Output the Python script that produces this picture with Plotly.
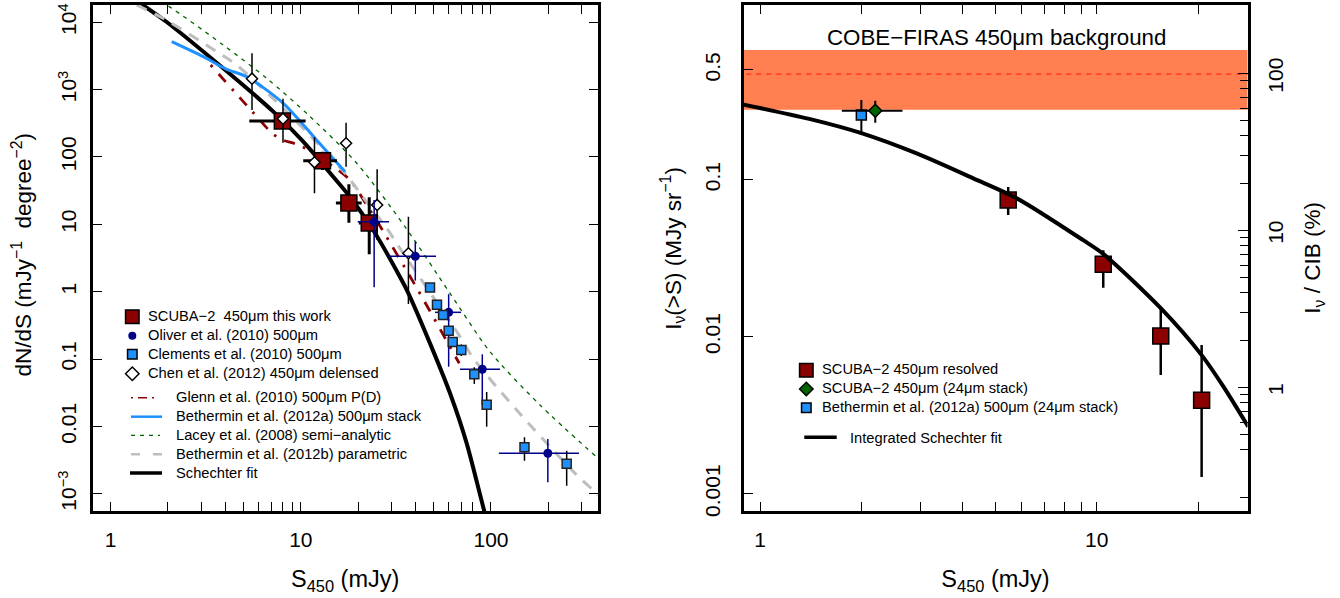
import plotly.graph_objects as go

FONT = "Liberation Sans"
W, H = 1340, 598

# ---------- left panel data ----------
schechter_x = [1.457, 1.972, 3.91, 7.17, 10.3, 14.8, 18.1, 24, 33.9, 36.8, 47.8, 60.9, 74.5, 91.9, 93]
schechter_y = [18500, 10100, 2075, 471, 169, 51, 25.7, 8.24, 1.49, 0.947, 0.171, 0.031, 0.00561, 0.000574, 0.000517]
param_x = [1.37, 1.93, 3.61, 4.6, 8.77, 17.4, 20.5, 28.3, 33.2, 68.7, 80.7, 136.5, 282, 352, 365]
param_y = [18060, 11090, 3660, 2323, 420, 54, 28.9, 8.74, 4.41, 0.215, 0.1026, 0.0175, 0.0019, 0.00107, 0.00095]
lacey_x = [1.83, 2.01, 3.91, 6.62, 11.2, 19.7, 35.3, 60.9, 98.8, 181, 360]
lacey_y = [20000, 17460, 4600, 1474, 397, 80.6, 9.23, 0.947, 0.1286, 0.0208, 0.00348]
stack_x = [2.095, 3.07, 4.08, 5.19, 8.09, 12.1, 17.1]
stack_y = [5150, 3085, 2005, 1557, 627, 179, 60.5]
glenn_x = [3.36, 5.56, 7.17, 8.04, 10, 17.9, 22.2, 27, 39.4, 47.4, 56.8, 68.1]
glenn_y = [2323, 471, 217, 179, 146, 47.1, 19.4, 8.05, 1.33, 0.535, 0.215, 0.0865]

scuba_x = [8.0, 13.0, 17.9, 22.9]
scuba_xlo = [5.36, 10.3, 15.3, 20.2]
scuba_xhi = [10.6, 15.5, 20.9, 26.1]
scuba_y = [342, 88, 20.7, 10.5]
scuba_ylo = [260, 64, 10.6, 3.59]
scuba_yhi = [450, 120, 39.3, 25.2]

chen_x = [5.54, 8.06, 11.8, 17.3, 25.2, 36.8]
chen_y = [1454, 370, 83.4, 160, 19.4, 3.72]
chen_ylo = [500, 163, 28.9, 71.8, 5.86, 0.656]
chen_yhi = [3467, 734, 196, 323, 65.6, 13]

oliver_x = [24.3, 40, 59.9, 90, 199]
oliver_xlo = [19.9, 28.8, 50.8, 68.7, 110]
oliver_xhi = [29.1, 51.4, 69.6, 111.5, 290]
oliver_y = [10.9, 3.35, 0.494, 0.0705, 0.00399]
oliver_ylo = [1.16, 1.46, 0.077, 0.0208, 0.00148]
oliver_yhi = [23, 5.5, 0.92, 0.1175, 0.0065]

clem_x = [47.8, 52, 56, 59.9, 62.9, 69.8, 81.7, 94.9, 150, 250]
clem_y = [1.15, 0.641, 0.451, 0.264, 0.179, 0.136, 0.0594, 0.021, 0.0049, 0.00279]
clem_ylo = [1.0, 0.56, 0.40, 0.23, 0.155, 0.111, 0.0427, 0.0099, 0.0031, 0.00132]
clem_yhi = [1.3, 0.72, 0.51, 0.30, 0.205, 0.165, 0.0755, 0.0324, 0.00689, 0.00436]

# ---------- right panel data ----------
intfit_x = [0.882, 1.4, 2.0, 2.92, 4.3, 5.79, 9.12, 10.46, 15.5, 20.5, 23.8, 28.2]
intfit_y = [0.303, 0.244, 0.198, 0.147, 0.102, 0.0762, 0.0412, 0.0337, 0.0152, 0.00764, 0.00481, 0.00267]
res_x = [5.46, 10.46, 15.5, 20.5]
res_y = [0.0743, 0.0290, 0.0101, 0.00394]
res_ylo = [0.0596, 0.0205, 0.0057, 0.00128]
res_yhi = [0.09, 0.0356, 0.0152, 0.00885]
stk450_x = [2.2]
stk450_xlo = [1.75]
stk450_xhi = [2.65]
stk450_y = [0.275]
stk450_ylo = [0.231]
stk450_yhi = [0.318]
stk500_x = [2.0]
stk500_y = [0.258]
stk500_ylo = [0.198]
stk500_yhi = [0.322]
firas_mean = [0.471, 0.471]
firas_x = [0.85, 30]
firas_lo, firas_hi = 0.279, 0.67

# ---------- tick labels ----------
xticks_left = [1, 10, 100]
xtext_left = ["1", "10", "100"]
xminor_left = [2,3,4,5,6,7,8,9,20,30,40,50,60,70,80,90,200,300]
xticks_right = [1, 10]
xtext_right = ["1", "10"]
xminor_right = [2,3,4,5,6,7,8,9,20]
yticks_left = [1e4,1e3,100,10,1,0.1,0.01,1e-3]
ytext_left = ["10<sup>4</sup>","10<sup>3</sup>","100","10","1","0.1","0.01","10<sup>−3</sup>"]
yticks_right = [0.5,0.1,0.01,0.001]
ytext_right = ["0.5","0.1","0.01","0.001"]
cib_major = [100,10,1]
cib_text = ["100","10","1"]
cib_minor = [90,80,70,60,50,40,30,20,9,8,7,6,5,4,3,2,0.9,0.8,0.7,0.6,0.5,0.4,0.2]

RED = "#8B0000"; NAVY = "#00008B"; BLUE = "#1E90FF"; GREEN = "#006400"; GRAY = "#BEBEBE"; CORAL = "#FF7F50"

def errs(v, lo, hi, thick, color):
    return dict(type="data", symmetric=False, array=[h-a for a,h in zip(v,hi)],
                arrayminus=[a-l for a,l in zip(v,lo)], width=0, thickness=thick, color=color, visible=True)

fig = go.Figure()
def line(x, y, color, width, dash="solid", xa="x", ya="y", name="", spline=True):
    fig.add_trace(go.Scatter(x=x, y=y, mode="lines", name=name, xaxis=xa, yaxis=ya, hoverinfo="skip",
        line=dict(color=color, width=width, dash=dash, shape="spline" if spline else "linear", smoothing=0.8)))

line(schechter_x, schechter_y, "black", 4, name="Schechter fit")
line(glenn_x, glenn_y, RED, 2.8, "2.5px,9px,11px,9px", name="Glenn et al. (2010)")
line(param_x, param_y, GRAY, 3, "11px,9px", name="Bethermin et al. (2012b)")
line(lacey_x, lacey_y, GREEN, 1.3, "4px,5px", name="Lacey et al. (2008)")
line(stack_x, stack_y, BLUE, 3, name="Bethermin et al. (2012a)")

fig.add_trace(go.Scatter(x=scuba_x, y=scuba_y, mode="markers", name="SCUBA-2",
    error_x=errs(scuba_x, scuba_xlo, scuba_xhi, 3, "black"),
    error_y=errs(scuba_y, scuba_ylo, scuba_yhi, 3, "black"),
    marker=dict(symbol="square", size=16, color=RED, line=dict(color="black", width=1.5))))
fig.add_trace(go.Scatter(x=chen_x, y=chen_y, mode="markers", name="Chen et al. (2012)",
    error_y=errs(chen_y, chen_ylo, chen_yhi, 1.5, "black"),
    marker=dict(symbol="diamond", size=8.5, color="white", line=dict(color="black", width=1.5))))
fig.add_trace(go.Scatter(x=oliver_x, y=oliver_y, mode="markers", name="Oliver et al. (2010)",
    error_x=errs(oliver_x, oliver_xlo, oliver_xhi, 1.5, NAVY),
    error_y=errs(oliver_y, oliver_ylo, oliver_yhi, 1.5, NAVY),
    marker=dict(symbol="circle", size=9, color=NAVY)))
fig.add_trace(go.Scatter(x=clem_x, y=clem_y, mode="markers", name="Clements et al. (2010)",
    error_y=errs(clem_y, clem_ylo, clem_yhi, 1.5, "black"),
    marker=dict(symbol="square", size=9, color=BLUE, line=dict(color="#222222", width=1.5))))

# right panel
line(firas_x, firas_mean, "#FF2A1A", 1.3, "5px,5px", "x2", "y2", "COBE-FIRAS", False)
fig.add_trace(go.Scatter(x=res_x, y=res_y, mode="markers", xaxis="x2", yaxis="y2", name="SCUBA-2 resolved",
    error_y=errs(res_y, res_ylo, res_yhi, 2.5, "black"),
    marker=dict(symbol="square", size=16, color=RED, line=dict(color="black", width=1.5))))
line(intfit_x, intfit_y, "black", 4, xa="x2", ya="y2", name="Integrated Schechter fit")
fig.add_trace(go.Scatter(x=stk500_x, y=stk500_y, mode="markers", xaxis="x2", yaxis="y2", name="Bethermin 24um stack",
    error_y=errs(stk500_y, stk500_ylo, stk500_yhi, 2, "black"),
    marker=dict(symbol="square", size=10, color=BLUE, line=dict(color="black", width=1.5))))
fig.add_trace(go.Scatter(x=stk450_x, y=stk450_y, mode="markers", xaxis="x2", yaxis="y2", name="SCUBA-2 24um stack",
    error_x=errs(stk450_x, stk450_xlo, stk450_xhi, 2, "black"),
    error_y=errs(stk450_y, stk450_ylo, stk450_yhi, 2, "black"),
    marker=dict(symbol="diamond", size=10, color=GREEN, line=dict(color="black", width=1.5))))
# dummy trace so the right-hand axis exists
fig.add_trace(go.Scatter(x=[1], y=[1], mode="markers", xaxis="x2", yaxis="y3", marker=dict(opacity=0),
                         hoverinfo="skip", name="CIB %"))

def px(x): return x / W
def py(y): return 1 - y / H

tick = dict(size=21, family=FONT, color="black")
title = dict(size=22.5, family=FONT, color="black")
xtitle = dict(size=23.5, family=FONT, color="black")
common = dict(type="log", tickmode="array", ticks="inside", ticklen=9, tickwidth=1.4, tickcolor="black",
              showgrid=False, zeroline=False, showline=True, linecolor="black", linewidth=3, tickfont=tick)
def minor(vals, ln=9):
    return dict(ticks="inside", tickmode="array", tickvals=vals, ticklen=ln, tickwidth=1.4, tickcolor="black", showgrid=False)

layout = dict(
    width=W, height=H, margin=dict(l=0, r=0, t=0, b=0, autoexpand=False), showlegend=False,
    plot_bgcolor="white", paper_bgcolor="white", font=dict(family=FONT, color="black"),
    xaxis=dict(common, domain=[px(92.8), px(597.5)], range=[-0.0936, 2.560], anchor="y", mirror="allticks",
               tickvals=xticks_left, ticktext=xtext_left, minor=minor(xminor_left), ticklabelstandoff=8,
               title=dict(text="S<sub>450</sub> (mJy)", font=xtitle, standoff=21)),
    yaxis=dict(common, domain=[py(511.2), py(4.5)], range=[-3.259, 4.264], anchor="x", mirror="allticks",
               tickvals=yticks_left, ticktext=ytext_left, tickangle=-90, ticklabelstandoff=5,
               title=dict(text="&#160;dN/dS (mJy<sup>−1</sup>&#160;&#160;degree<sup>−2</sup>)", font=title, standoff=17)),
    xaxis2=dict(common, domain=[px(743.5), px(1247.5)], range=[-0.049, 1.448], anchor="y2", mirror="allticks",
                tickvals=xticks_right, ticktext=xtext_right, minor=minor(xminor_right), ticklabelstandoff=8,
                title=dict(text="S<sub>450</sub> (mJy)", font=xtitle, standoff=21)),
    yaxis2=dict(common, domain=[py(511.2), py(4.5)], range=[-3.111, 0.116], anchor="x2",
                tickvals=yticks_right, ticktext=ytext_right, tickangle=-90, ticklabelstandoff=12,
                title=dict(text="&#160;&#160;&#160;I<sub>ν</sub>(>S) (MJy sr<sup>−1</sup>)", font=title, standoff=14)),
    yaxis3=dict(common, domain=[py(511.2), py(4.5)], range=[-0.789, 2.438], anchor="x2", overlaying="y2", side="right",
                tickvals=cib_major, ticktext=cib_text, tickangle=-90, ticklen=10, ticklabelstandoff=7, ticklabelshift=5,
                minor=minor(cib_minor, 8),
                title=dict(text="I<sub>ν</sub> / CIB (%)", font=title, standoff=19)),
)

shapes = [dict(type="rect", xref="x2 domain", yref="y2", x0=0, x1=1, y0=firas_lo, y1=firas_hi,
               fillcolor=CORAL, line=dict(width=0), layer="below")]
ann = []
def label(x, y, text, size=14.7):
    ann.append(dict(xref="paper", yref="paper", x=px(x), y=py(y), text=text, showarrow=False, xanchor="left",
                    yanchor="middle", align="left", xshift=0, font=dict(size=size, family=FONT, color="black")))

def key_square(x, y, s, fill):
    shapes.append(dict(type="rect", xref="paper", yref="paper", x0=px(x-s/2), x1=px(x+s/2), y0=py(y+s/2), y1=py(y-s/2),
                       fillcolor=fill, line=dict(color="black", width=1.5)))
def key_circle(x, y, s, fill):
    shapes.append(dict(type="circle", xref="paper", yref="paper", x0=px(x-s/2), x1=px(x+s/2), y0=py(y+s/2), y1=py(y-s/2),
                       fillcolor=fill, line=dict(color=fill, width=0)))
def key_diamond(x, y, s, fill):
    d = s/2
    path = f"M {px(x-d)} {py(y)} L {px(x)} {py(y-d)} L {px(x+d)} {py(y)} L {px(x)} {py(y+d)} Z"
    shapes.append(dict(type="path", xref="paper", yref="paper", path=path, fillcolor=fill, line=dict(color="black", width=1.5)))
def key_line(x0, x1, y, color, width, dash="solid"):
    shapes.append(dict(type="line", xref="paper", yref="paper", x0=px(x0), x1=px(x1), y0=py(y), y1=py(y),
                       line=dict(color=color, width=width, dash=dash)))

key_square(132.3, 316.7, 13.5, RED);   label(146, 316, "SCUBA−2  450μm this work")
key_circle(132.3, 335.7, 8, NAVY);     label(146, 335, "Oliver et al. (2010) 500μm")
key_square(132.3, 354.3, 9.5, BLUE);   label(146, 353.5, "Clements et al. (2010) 500μm")
key_diamond(132.3, 373.7, 13.5, "white"); label(146, 372.5, "Chen et al. (2012) 450μm delensed")
key_line(131, 159, 397.7, RED, 1.5, "2px,5px,9px,5px"); label(174.3, 397, "Glenn et al. (2010) 500μm P(D)")
key_line(131, 162, 416.7, BLUE, 2.5);                   label(174.3, 416, "Bethermin et al. (2012a) 500μm stack")
key_line(131, 160, 435.3, GREEN, 1.2, "4px,5px");       label(174.3, 434.5, "Lacey et al. (2008) semi−analytic")
key_line(131, 162, 454.3, GRAY, 2.5, "9px,13px");       label(174.3, 453.5, "Bethermin et al. (2012b) parametric")
key_line(130, 162, 473, "black", 3.5);                  label(174.3, 473, "Schechter fit")

key_square(806.3, 370.3, 13.5, RED);      label(820, 369, "SCUBA−2 450μm resolved")
key_diamond(806.3, 389, 13.5, GREEN);     label(820, 388, "SCUBA−2 450μm (24μm stack)")
key_square(806.3, 407.7, 9.5, BLUE);      label(820, 406.7, "Bethermin et al. (2012a) 500μm (24μm stack)")
key_line(804.3, 836.7, 437.3, "black", 3.5); label(848.5, 438, "Integrated Schechter fit")

label(825, 38, "COBE−FIRAS 450μm background", size=22.3)

layout["shapes"] = shapes
layout["annotations"] = ann
fig.update_layout(**layout)
fig.write_html("out.html", post_script="document.body.style.margin='0';", config=dict(displayModeBar=False))
